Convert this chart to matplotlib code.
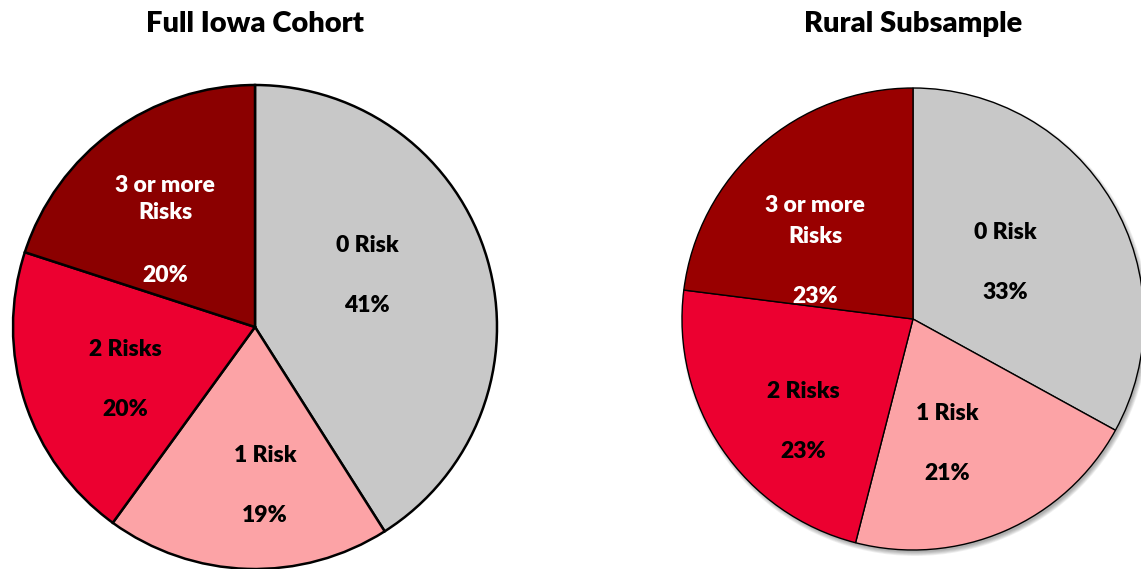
import matplotlib
matplotlib.use("Agg")
import matplotlib.pyplot as plt
from matplotlib.patches import Circle

plt.rcParams["font.family"] = ["Lato", "DejaVu Sans"]

categories = ["0 Risk", "1 Risk", "2 Risks", "3 or more\nRisks"]
full_cohort = [41, 19, 20, 20]
rural_subsample = [33, 21, 23, 23]
titles = ["Full Iowa Cohort", "Rural Subsample"]

colors_full = ["#C8C8C8", "#FCA3A6", "#EC0030", "#8B0000"]
colors_rural = ["#C8C8C8", "#FCA3A6", "#EC0030", "#990000"]

W, H = 1141, 569
fig = plt.figure(figsize=(W / 100, H / 100), dpi=100)
ax = fig.add_axes([0, 0, 1, 1])

# pixel layout: (center x, center y from top, radius, edge width)
layouts = [(255, 327, 242, 1.8), (913, 319, 231, 1.0)]
# label offsets relative to pie center, in pixels (x, name line y, pct line y)
label_pos = [
    [(112, -82, -22), (10, 128, 188), (-130, 23, 83), (-90, -128, -52)],
    [(92, -87, -27), (34, 95, 154), (-110, 73, 133), (-98, -98, -23)],
]
name_spacing = [1.35, 1.55]

for i, (vals, cols) in enumerate([(full_cohort, colors_full),
                                  (rural_subsample, colors_rural)]):
    cx, cy, r, lw = layouts[i]
    cy_d = H - cy
    if i == 1:
        # soft shadow under the rural pie
        for k in range(6):
            ax.add_patch(Circle((cx + 2, cy_d - 3), r + 3 - k * 0.8,
                                color="#000000", alpha=0.06, lw=0, zorder=0))
    ax.pie(vals, colors=cols, startangle=90, counterclock=False,
           center=(cx, cy_d), radius=r, frame=True,
           wedgeprops=dict(edgecolor="black", linewidth=lw))
    for j, (name, v) in enumerate(zip(categories, vals)):
        dx, dy1, dy2 = label_pos[i][j]
        tc = "white" if j == 3 else "black"
        ax.text(cx + dx, H - (cy + dy1), name, ha="center", va="center",
                fontsize=16.5, fontweight="heavy", color=tc,
                linespacing=name_spacing[i])
        ax.text(cx + dx, H - (cy + dy2), f"{v}%", ha="center", va="center",
                fontsize=16.5, fontweight="heavy", color=tc)
    ax.text(cx, H - 24, titles[i], ha="center", va="center",
            fontsize=21, fontweight="heavy", color="black")

ax.set_xlim(0, W)
ax.set_ylim(0, H)
ax.set_aspect("equal")
ax.axis("off")
fig.savefig("out.png", dpi=100)
